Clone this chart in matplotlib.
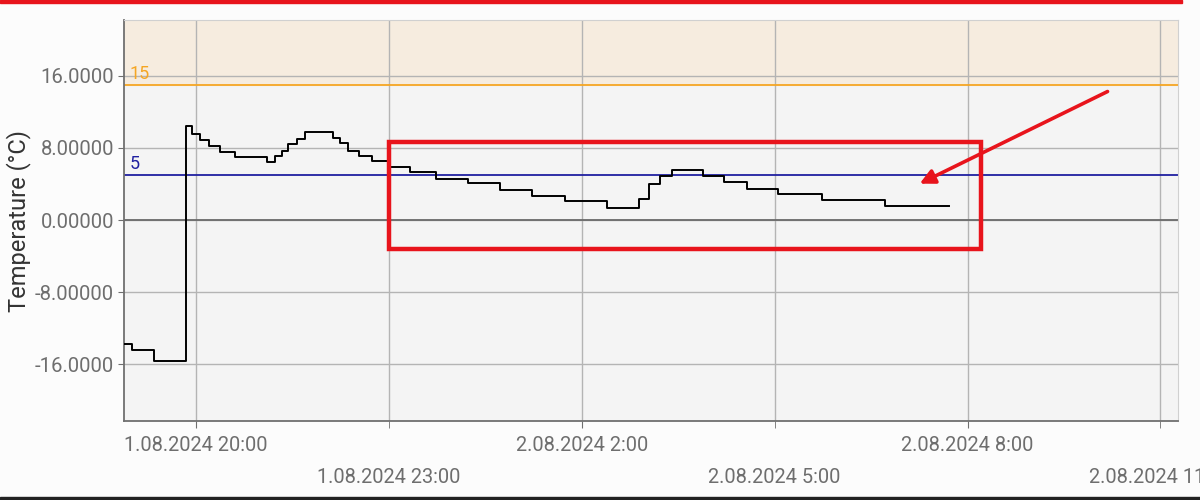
import matplotlib
matplotlib.use("Agg")
from matplotlib import pyplot as plt
from matplotlib.patches import Rectangle
import matplotlib.dates as mdates
import pandas as pd

plt.rcParams['font.family'] = ['Roboto', 'DejaVu Sans']

# step readings (value holds until the next timestamp)
times = ["2024-08-01 18:53", "2024-08-01 19:00", "2024-08-01 19:21", "2024-08-01 19:51",
         "2024-08-01 19:56", "2024-08-01 20:04", "2024-08-01 20:12", "2024-08-01 20:22",
         "2024-08-01 20:36", "2024-08-01 21:06", "2024-08-01 21:14", "2024-08-01 21:20",
         "2024-08-01 21:26", "2024-08-01 21:34", "2024-08-01 21:42", "2024-08-01 22:08",
         "2024-08-01 22:14", "2024-08-01 22:22", "2024-08-01 22:32", "2024-08-01 22:44",
         "2024-08-01 23:00", "2024-08-01 23:20", "2024-08-01 23:44", "2024-08-02 00:14",
         "2024-08-02 00:44", "2024-08-02 01:14", "2024-08-02 01:44", "2024-08-02 02:24",
         "2024-08-02 02:53", "2024-08-02 03:03", "2024-08-02 03:13", "2024-08-02 03:24",
         "2024-08-02 03:53", "2024-08-02 04:13", "2024-08-02 04:34", "2024-08-02 05:03",
         "2024-08-02 05:44", "2024-08-02 06:43", "2024-08-02 07:43"]
temps = [-13.7, -14.4, -15.6, 10.4, 9.6, 8.9, 8.2, 7.6, 7.0, 6.4, 7.1, 7.7, 8.4, 9.0, 9.8,
         9.1, 8.5, 7.7, 7.1, 6.5, 5.9, 5.3, 4.6, 4.1, 3.3, 2.7, 2.1, 1.3, 2.3, 4.0, 4.9, 5.5,
         4.9, 4.2, 3.5, 2.9, 2.2, 1.55, 1.55]

upper_limit = 15
lower_limit = 5
y_ticks = [-16, -8, 0, 8, 16]
y_tick_labels = ["-16.0000", "-8.00000", "0.00000", "8.00000", "16.0000"]
x_start, x_end = "2024-08-01 18:52:50", "2024-08-02 11:16"
major_hours = ["2024-08-01 20:00", "2024-08-02 02:00", "2024-08-02 08:00"]
minor_hours = ["2024-08-01 23:00", "2024-08-02 05:00", "2024-08-02 11:00"]

# hand-drawn markup on the screenshot
box_x = ["2024-08-01 23:00", "2024-08-02 08:13"]
box_y = [-3.2, 8.7]
arrow_from = ("2024-08-02 10:13", 14.4)
arrow_to = ("2024-08-02 07:13", 3.9)

t = pd.to_datetime(times)
fig = plt.figure(figsize=(12, 5), dpi=100)
fig.patch.set_facecolor('#fcfcfc')
ax = fig.add_axes([0.1033, 0.158, 0.878, 0.802])
ax.set_facecolor('#f4f4f4')

x0, x1 = pd.Timestamp(x_start), pd.Timestamp(x_end)
ax.set_xlim(x0, x1)
ax.set_ylim(-22.3, 22.2)

ax.axhspan(upper_limit, 22.2, color='#f6ecdf', zorder=0)
ax.axhline(upper_limit, color='#f5a623', lw=1.3, zorder=2)
ax.axhline(lower_limit, color='#2020a0', lw=1.3, zorder=2)
ax.axhline(0, color='#6a6a6a', lw=1.3, zorder=1)
ax.text(x0 + pd.Timedelta(minutes=5), upper_limit + 0.2, str(upper_limit), color='#f5a623',
        fontsize=13, va='bottom')
ax.text(x0 + pd.Timedelta(minutes=5), lower_limit + 0.2, str(lower_limit), color='#2020a0',
        fontsize=13, va='bottom')

ax.step(t, temps, where='post', color='black', lw=1.4, zorder=3)

ax.set_yticks(y_ticks)
ax.set_yticklabels(y_tick_labels)
ax.set_xticks(pd.to_datetime(major_hours))
ax.set_xticks(pd.to_datetime(minor_hours), minor=True)

def fmt(v, pos=None):
    d = mdates.num2date(v)
    return f"{d.day}.{d.month:02d}.{d.year} {d.hour}:{d.minute:02d}"

ax.xaxis.set_major_formatter(plt.FuncFormatter(fmt))
ax.xaxis.set_minor_formatter(plt.FuncFormatter(fmt))

ax.grid(True, which='both', axis='x', color='#b4b4b4', lw=1)
ax.grid(True, which='major', axis='y', color='#b4b4b4', lw=1)
ax.set_axisbelow(True)
ax.tick_params(axis='x', which='major', length=5, pad=6, labelsize=14.4, colors='#6e6e6e')
ax.tick_params(axis='x', which='minor', length=5, pad=29, labelsize=14.4, colors='#6e6e6e')
ax.tick_params(axis='y', length=4, pad=3, labelsize=14.6, colors='#6e6e6e')

for side in ['left', 'bottom']:
    ax.spines[side].set_color('#707070')
    ax.spines[side].set_linewidth(1.3)
for side in ['top', 'right']:
    ax.spines[side].set_color('#d0d0d0')

ax.set_ylabel("Temperature (°C)", fontsize=17, color='#333333', labelpad=3)

bx = pd.to_datetime(box_x)
bx0, bx1 = mdates.date2num(bx[0]), mdates.date2num(bx[1])
ax.add_patch(Rectangle((bx0, box_y[0]), bx1 - bx0, box_y[1] - box_y[0], fill=False,
                       edgecolor='#e8141c', lw=3.2, zorder=5))
ax.annotate("", xy=(pd.Timestamp(arrow_to[0]), arrow_to[1]),
            xytext=(pd.Timestamp(arrow_from[0]), arrow_from[1]),
            arrowprops=dict(arrowstyle='-|>', color='#e8141c', lw=2.6, mutation_scale=22),
            zorder=5)

# screenshot frame bits
fig.patches.append(Rectangle((0, 0.994), 0.985, 0.006, transform=fig.transFigure,
                             color='#e8141c'))
fig.patches.append(Rectangle((0, 0), 1, 0.006, transform=fig.transFigure, color='#222222'))

fig.savefig("out.png", dpi=100, facecolor=fig.get_facecolor())
